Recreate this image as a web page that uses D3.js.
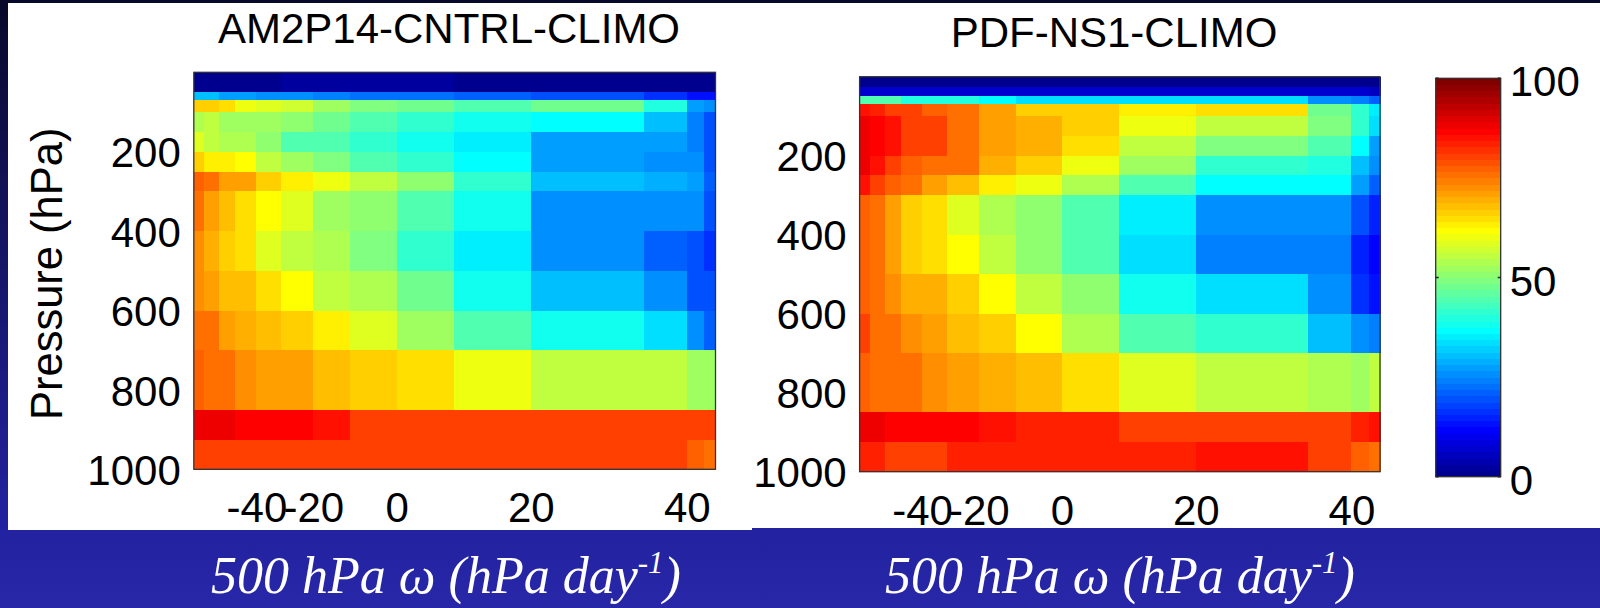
<!DOCTYPE html>
<html><head><meta charset="utf-8">
<script src="https://cdn.jsdelivr.net/npm/d3@7"></script>
<style>html,body{margin:0;padding:0;background:#000;}svg{display:block;}</style>
</head><body>
<svg id="chart" width="1600" height="608"></svg>
<script>
// ---------------- data ----------------
// omega bin edges (hPa/day) and cumulative frequency (%) at each edge (x axis)
const omegaEdges = [-80, -70, -60, -50, -40, -30, -20, -10, 0, 10, 20, 30, 40, 50, 60];
const omegaCumPct = [0, 2.0, 4.9, 7.9, 12.0, 16.7, 22.9, 30.0, 38.9, 49.8, 64.6, 86.2, 94.5, 97.8, 100];
// pressure level edges (hPa), top to bottom
const pressureEdges = [0, 25, 50, 70, 100, 150, 200, 250, 300, 400, 500, 600, 700, 850, 925, 1000];
const xTicks = [-40, -20, 0, 20, 40];
const yTicks = [200, 400, 600, 800, 1000];
const cbarTicks = [0, 50, 100];
const titleCntrl = "AM2P14-CNTRL-CLIMO";
const titleNs1 = "PDF-NS1-CLIMO";
const yAxisLabel = "Pressure (hPa)";

// values (0-100), rows top (0 hPa) to bottom (1000 hPa), 14 omega bins each
const cntrlValues = [
  [0,0,0,0,0,2,2,2,2,1,1,1,1,1],
  [0,0,0,0,0,2,2,2,2,1,1,1,1,1],
  [30,30,28,27.5,26.5,25,23.5,22.7,22,21,20,17,14,12.5],
  [66,66,64.5,60,58,57,52,49,47,45,47,40.5,28,25],
  [54,55,53,53,52,50,47,45,42,37.5,36,30,23.5,19],
  [59,55.5,54,54,50,45,44,42,39,34.5,28,27.5,23.5,19],
  [67,63.5,62.5,61,55.5,52,49,45,42,36,28,26.5,26,20],
  [78,76.5,71.5,70.5,67,62.5,60,55.5,51,42,31,29,28,21],
  [75,71.5,68,64.5,61,58,52,50,45,37.5,26,26,25,20],
  [73,69.5,67,64.5,59,56,54,49,42,34.5,25,21,19,17],
  [73,70.5,68.5,68,64.5,61,56,54,47,39,31,25,19,19],
  [76.5,75,71.5,70,68.5,66,62.5,58,52,44,39,33,25,21],
  [78,76.5,75,73,71.5,71.5,68.5,66,64.5,60,56,55.5,52,52],
  [87.5,87.5,87.5,86,86,86,84.5,81,81,81,81,81,80,81],
  [80,80,80,80,80,80,80,80,80,80,81,80,78,76.5]
];
const ns1Values = [
  [0,0,0,0,0,0,0,0,0,0,0,0,0,0],
  [7,7,7,7,7,7,7,7,7,7,7,7,7,6],
  [44,44,44,40.5,40.5,40.5,36,33,33,33,33,25,24,21],
  [84.5,83,81,80,78,76.5,71.5,67,66,62.5,64.5,48,42,35],
  [87.5,86,84.5,81,80,76.5,71.5,69.5,67,60,55.5,49,42,33],
  [87.5,86,84.5,81,80,76.5,71.5,69.5,64.5,56,49,45,36,28],
  [87.5,84.5,81,78,76.5,75,69.5,66,60,52,42,40.5,31,25],
  [84.5,81,78,75,71.5,68.5,62.5,60,54,45,36,36,28,21],
  [78,76.5,71.5,67,64.5,58,54,50,44,34.5,25,26,20,15.5],
  [78,76.5,71.5,67,64.5,61.5,56,50,44,33,23.5,23.5,15.5,11.5],
  [78,76.5,73,70,69.5,66,61.5,56,50,39,33,25,17,12.5],
  [80,76.5,75,73,70.5,68.5,66,61.5,54,45,42,31,25,23.5],
  [78,76.5,75,75,73,71.5,69.5,68.5,64.5,58,56,54,52,55],
  [87.5,87.5,86,86,86,86,84.5,84,84,81,81,81,83,84.5],
  [83,83,81,81,81,83,83,83,83,83,84.5,81,78,76.5]
];

// ---------------- colormap: MATLAB jet(64) ----------------
function jet64() {
  const u = [];
  for (let k = 1; k <= 16; k++) u.push(k / 16);
  for (let k = 0; k < 15; k++) u.push(1);
  for (let k = 16; k >= 1; k--) u.push(k / 16);
  const U = k => (k >= 1 && k <= u.length) ? u[k - 1] : 0;
  const cols = [];
  for (let i = 1; i <= 64; i++) {
    const r = i >= 25 ? U(i - 24) : 0;
    const g = (i >= 9 && i <= 55) ? U(i - 8) : 0;
    const b = i <= 39 ? U(i + 8) : 0;
    cols.push(d3.rgb(r * 255, g * 255, b * 255).formatHex());
  }
  return cols;
}
const jetColors = jet64();
const color = d3.scaleQuantize().domain([0, 100]).range(jetColors);

// ---------------- drawing ----------------
const W = 1600, H = 608;
const svg = d3.select("#chart");
const defs = svg.append("defs");
const bg = defs.append("linearGradient").attr("id", "bg").attr("x1", 0).attr("y1", 0).attr("x2", 0).attr("y2", 1);
[[0, "#08082a"], [0.45, "#16166a"], [0.86, "#2222a0"], [1, "#2727a8"]].forEach(([o, c]) =>
  bg.append("stop").attr("offset", o).attr("stop-color", c));
svg.append("rect").attr("width", W).attr("height", H).attr("fill", "url(#bg)");

// white slide panels
svg.append("rect").attr("x", 8).attr("y", 3).attr("width", 744).attr("height", 527).attr("fill", "#fff");
svg.append("rect").attr("x", 752).attr("y", 3).attr("width", 848).attr("height", 525).attr("fill", "#fff");

const FONT = "'Liberation Sans', Arial, Helvetica, sans-serif";
const FS = 42;

function drawPanel(p) {
  const g = svg.append("g");
  const x = d3.scaleLinear()
    .domain(omegaEdges)
    .range(omegaCumPct.map(c => p.x0 + c / 100 * (p.x1 - p.x0)));
  const y = d3.scaleLinear().domain([0, 1000]).range([p.y0, p.y1]);

  const cells = [];
  p.values.forEach((row, i) => row.forEach((v, j) => cells.push({ i, j, v })));
  g.append("g").selectAll("rect").data(cells).join("rect")
    .attr("x", d => x(omegaEdges[d.j]))
    .attr("y", d => y(pressureEdges[d.i]))
    .attr("width", d => x(omegaEdges[d.j + 1]) - x(omegaEdges[d.j]) + 0.6)
    .attr("height", d => y(pressureEdges[d.i + 1]) - y(pressureEdges[d.i]) + 0.6)
    .attr("fill", d => color(d.v))
    .attr("shape-rendering", "crispEdges");

  // frame
  g.append("rect").attr("x", p.x0).attr("y", p.y0)
    .attr("width", p.x1 - p.x0).attr("height", p.y1 - p.y0)
    .attr("fill", "none").attr("stroke", "#333").attr("stroke-width", 1.3);

  const xAxis = g.append("g").attr("transform", `translate(0,${p.y1})`)
    .call(d3.axisBottom(x).tickValues(xTicks).tickSize(0).tickPadding(23).tickFormat(d => d < 0 ? "-" + Math.abs(d) : String(d)));
  const yAxis = g.append("g").attr("transform", `translate(${p.x0},0)`)
    .call(d3.axisLeft(y).tickValues(yTicks).tickSize(0).tickPadding(13).tickFormat(d => String(d)));
  [xAxis, yAxis].forEach(a => {
    a.select(".domain").remove();
    a.selectAll("text").attr("font-family", FONT).attr("font-size", FS).attr("fill", "#000");
  });
  yAxis.selectAll("text").attr("dy", "0.36em");

  g.append("text").attr("x", p.titleX).attr("y", p.titleY)
    .attr("text-anchor", "middle").attr("font-family", FONT).attr("font-size", FS)
    .attr("fill", "#000").text(p.title);

  if (p.yLabel) {
    g.append("text")
      .attr("transform", `translate(${p.yLabelX},${(p.y0 + p.y1) / 2 + 3}) rotate(-90)`)
      .attr("text-anchor", "middle").attr("font-family", FONT).attr("font-size", 43.5)
      .attr("fill", "#000").text(p.yLabel);
  }

  // bottom x-axis label (white, serif italic)
  const t = svg.append("text").attr("x", p.xLabelX).attr("y", 593)
    .attr("text-anchor", "middle").attr("font-family", "'Liberation Serif', 'Times New Roman', serif")
    .attr("font-style", "italic").attr("font-size", 52).attr("fill", "#fff");
  t.append("tspan").text("500 hPa \u03c9 (hPa day");
  t.append("tspan").attr("font-size", 31).attr("dy", -20).text("-1");
  t.append("tspan").attr("dy", 20).text(")");
}

drawPanel({ x0: 193.8, x1: 715.5, y0: 72.3, y1: 469.3, values: cntrlValues, title: titleCntrl,
  titleX: 449, titleY: 43, yLabel: yAxisLabel, yLabelX: 62, xLabelX: 446 });
drawPanel({ x0: 859.6, x1: 1380, y0: 76.7, y1: 471.7, values: ns1Values, title: titleNs1,
  titleX: 1114, titleY: 47, xLabelX: 1120 });

// colorbar
const cb = { x0: 1435.7, x1: 1500.7, y0: 78.3, y1: 476.7 };
const cy = d3.scaleLinear().domain([0, 100]).range([cb.y1, cb.y0]);
const cbg = svg.append("g");
const step = 100 / jetColors.length;
cbg.selectAll("rect.band").data(jetColors).join("rect").attr("class", "band")
  .attr("x", cb.x0).attr("width", cb.x1 - cb.x0)
  .attr("y", (c, i) => cy((i + 1) * step))
  .attr("height", (c, i) => cy(i * step) - cy((i + 1) * step) + 0.5)
  .attr("fill", c => c).attr("shape-rendering", "crispEdges");
cbg.append("rect").attr("x", cb.x0).attr("y", cb.y0).attr("width", cb.x1 - cb.x0).attr("height", cb.y1 - cb.y0)
  .attr("fill", "none").attr("stroke", "#333").attr("stroke-width", 1.3);
// inside tick marks
cbg.selectAll("path.tk").data(cbarTicks).join("path").attr("class", "tk")
  .attr("d", d => `M${cb.x0},${cy(d)}h3M${cb.x1},${cy(d)}h-3`).attr("stroke", "#222").attr("stroke-width", 1.5);
const cAxis = cbg.append("g").attr("transform", `translate(${cb.x1},0)`)
  .call(d3.axisRight(cy).tickValues(cbarTicks).tickSize(0).tickPadding(9));
cAxis.select(".domain").remove();
cAxis.selectAll("text").attr("font-family", FONT).attr("font-size", FS).attr("fill", "#000").attr("dy", "0.42em");
</script>
</body></html>
